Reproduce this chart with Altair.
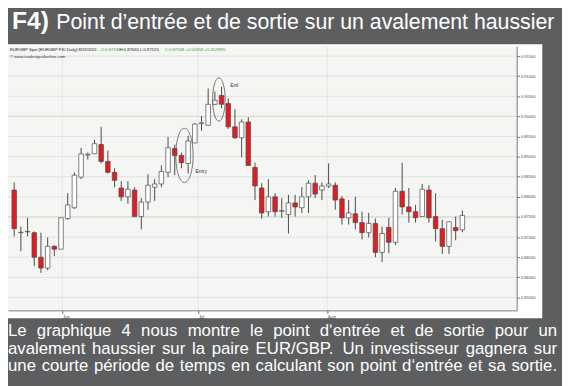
import altair as alt
import pandas as pd

# ---------------- data ----------------
opens = [0.8817, 0.8711, 0.8713, 0.8711, 0.8650, 0.8623, 0.8677, 0.8670, 0.8746, 0.8773,
         0.8849, 0.8904, 0.8907, 0.8930, 0.8888, 0.8861, 0.8822, 0.8800, 0.8817, 0.8751,
         0.8787, 0.8824, 0.8832, 0.8861, 0.8920, 0.8903, 0.8883, 0.8934, 0.8982, 0.8978,
         0.9030, 0.9052, 0.9032, 0.8974, 0.8947, 0.8986, 0.8873, 0.8822, 0.8763, 0.8800,
         0.8764, 0.8756, 0.8785, 0.8773, 0.8800, 0.8834, 0.8817, 0.8827, 0.8829, 0.8795,
         0.8748, 0.8758, 0.8736, 0.8711, 0.8734, 0.8662, 0.8724, 0.8687, 0.8814, 0.8775,
         0.8763, 0.8751, 0.8817, 0.8751, 0.8721, 0.8677, 0.8724, 0.8718]
highs = [0.8836, 0.8726, 0.8748, 0.8714, 0.8711, 0.8699, 0.8680, 0.8748, 0.8809, 0.8861,
         0.8922, 0.8910, 0.8942, 0.8974, 0.8915, 0.8871, 0.8839, 0.8839, 0.8824, 0.8797,
         0.8856, 0.8844, 0.8878, 0.8949, 0.8930, 0.8910, 0.8952, 0.8983, 0.9001, 0.9069,
         0.9062, 0.9074, 0.9045, 0.9018, 0.8993, 0.8998, 0.8885, 0.8834, 0.8844, 0.8809,
         0.8797, 0.8805, 0.8805, 0.8824, 0.8841, 0.8854, 0.8836, 0.8883, 0.8836, 0.8802,
         0.8792, 0.8800, 0.8763, 0.8760, 0.8746, 0.8726, 0.8748, 0.8822, 0.8885, 0.8822,
         0.8780, 0.8832, 0.8829, 0.8809, 0.8743, 0.8738, 0.8751, 0.8766]
lows = [0.8702, 0.8665, 0.8702, 0.8628, 0.8611, 0.8618, 0.8653, 0.8670, 0.8743, 0.8770,
        0.8844, 0.8893, 0.8907, 0.8883, 0.8858, 0.8824, 0.8790, 0.8783, 0.8751, 0.8719,
        0.8768, 0.8790, 0.8824, 0.8849, 0.8854, 0.8871, 0.8858, 0.8934, 0.8964, 0.8978,
        0.9028, 0.9020, 0.8969, 0.8944, 0.8898, 0.8878, 0.8792, 0.8746, 0.8751, 0.8751,
        0.8748, 0.8709, 0.8751, 0.8760, 0.8760, 0.8797, 0.8792, 0.8822, 0.8768, 0.8731,
        0.8731, 0.8719, 0.8694, 0.8699, 0.8650, 0.8638, 0.8660, 0.8680, 0.8756, 0.8736,
        0.8736, 0.8751, 0.8736, 0.8689, 0.8658, 0.8658, 0.8692, 0.8712]
closes = [0.8721, 0.8712, 0.8714, 0.8650, 0.8623, 0.8677, 0.8670, 0.8748, 0.8780, 0.8854,
          0.8907, 0.8906, 0.8932, 0.8888, 0.8861, 0.8841, 0.8800, 0.8819, 0.8751, 0.8787,
          0.8829, 0.8832, 0.8863, 0.8922, 0.8903, 0.8885, 0.8939, 0.8981, 0.8984, 0.9030,
          0.9040, 0.9030, 0.8974, 0.8947, 0.8986, 0.8878, 0.8827, 0.8760, 0.8800, 0.8763,
          0.8766, 0.8785, 0.8775, 0.8800, 0.8834, 0.8807, 0.8827, 0.8832, 0.8792, 0.8748,
          0.8760, 0.8736, 0.8711, 0.8734, 0.8662, 0.8709, 0.8687, 0.8814, 0.8775, 0.8763,
          0.8748, 0.8819, 0.8748, 0.8721, 0.8677, 0.8738, 0.8716, 0.87538]

y_ticks = [0.855, 0.860, 0.865, 0.870, 0.875, 0.880, 0.885, 0.890, 0.895, 0.900, 0.905, 0.910, 0.915]
major_levels = [0.875, 0.900]
month_pos = [7.2, 27.5, 46.8]
month_labels = ["Jun", "Jul", "Aug"]

notes_text = ["Entry", "Exit"]
notes_x = [27.1, 32.3]
notes_y = [0.8863, 0.9079]
ellipse_x = [25.45, 30.6]
ellipse_y = [0.8903, 0.9042]

title_bold = "F4)"
title_rest = "Point d\u2019entr\u00e9e et de sortie sur un avalement haussier"
para_lines = [
    "Le graphique 4 nous montre le point d\u2018entr\u00e9e et de sortie pour un",
    "avalement haussier sur la paire EUR/GBP. Un investisseur gagnera sur",
    "une courte p\u00e9riode de temps en calculant son point d\u2018entr\u00e9e et sa sortie.",
]
header_parts = [
    ("EURGBP Spot [EURGBP FID Daily] 8/23/2011 -", "#222222"),
    ("O:0.87180", "#3aa63a"),
    ("H:0.87660 L:0.87120", "#222222"),
    ("C:0.87538 +0.00358 +0.41299%", "#3aa63a"),
]
header_line2 = "\u00a9 www.tradesignalonline.com"

# ---------------- table ----------------
df = pd.DataFrame({
    "i": list(range(len(opens))),
    "open": opens, "high": highs, "low": lows, "close": closes,
})
df["dir"] = ["up" if c >= o else "down" for o, c in zip(opens, closes)]

W, H = 516, 268
label_expr = "[" + ",".join(f"'{l}'" for l in month_labels) + "][indexof([" + \
    ",".join(str(p) for p in month_pos) + "], datum.value)]"

xscale = alt.Scale(domain=[-0.19, 74.38], nice=False, zero=False)
yscale = alt.Scale(domain=[0.85179, 0.91745], nice=False, zero=False)
xaxis = alt.Axis(orient="bottom", values=month_pos, labelExpr=label_expr, title=None,
                 grid=False, labelFontSize=4.5, labelColor="#444444", labelAlign="left",
                 labelPadding=1, tickSize=3, tickColor="#666666", domainColor="#777777",
                 labelFont="Liberation Sans", zindex=1)
yaxis = alt.Axis(orient="right", values=y_ticks, format=".5f", title=None, grid=False,
                 labelFontSize=4, labelColor="#444444", labelPadding=1, tickSize=3,
                 tickColor="#777777", domainColor="#777777", labelFont="Liberation Sans",
                 zindex=1)

one = pd.DataFrame({"a": [0]})

panel = alt.Chart(one).mark_rect(fill="#ffffff").encode(
    x=alt.value(0), x2=alt.value(542), y=alt.value(-2), y2=alt.value(276))
plotbg = alt.Chart(one).mark_rect(fill="#f5f5f3").encode(
    x=alt.value(0), x2=alt.value(W), y=alt.value(0), y2=alt.value(H))

hgrid = alt.Chart(pd.DataFrame({"v": y_ticks})).mark_rule(color="#e2e2e0", strokeWidth=1).encode(
    y=alt.Y("v:Q", scale=yscale, axis=yaxis))
hmajor = alt.Chart(pd.DataFrame({"v": major_levels})).mark_rule(color="#cfdccf", strokeWidth=1).encode(
    y=alt.Y("v:Q", scale=yscale, axis=yaxis))
vgrid = alt.Chart(pd.DataFrame({"m": month_pos})).mark_rule(color="#e6e6e4", strokeWidth=1).encode(
    x=alt.X("m:Q", scale=xscale, axis=xaxis))

base = alt.Chart(df)
wicks = base.mark_rule(color="#4a4a4a", strokeWidth=1, clip=True).encode(
    x=alt.X("i:Q", scale=xscale, axis=xaxis),
    y=alt.Y("low:Q", scale=yscale, axis=yaxis),
    y2="high:Q")
bodies = base.mark_bar(size=4.6, stroke="#4a4a4a", strokeWidth=0.7, clip=True).encode(
    x=alt.X("i:Q", scale=xscale, axis=xaxis),
    y=alt.Y("open:Q", scale=yscale, axis=yaxis),
    y2="close:Q",
    fill=alt.Fill("dir:N", scale=alt.Scale(domain=["up", "down"], range=["#ffffff", "#e31b23"]),
                  legend=None))

ell_df = pd.DataFrame({"x": ellipse_x, "y": ellipse_y})
ell_entry = alt.Chart(ell_df.iloc[[0]]).mark_point(
    shape="M 0 -1 A 0.32 1 0 1 1 0 1 A 0.32 1 0 1 1 0 -1 Z",
    size=3025, filled=False, stroke="#555555", strokeWidth=0.8, opacity=1).encode(
    x=alt.X("x:Q", scale=xscale, axis=xaxis), y=alt.Y("y:Q", scale=yscale, axis=yaxis))
ell_exit = alt.Chart(ell_df.iloc[[1]]).mark_point(
    shape="M 0 -1 A 0.29 1 0 1 1 0 1 A 0.29 1 0 1 1 0 -1 Z",
    size=1936, filled=False, stroke="#555555", strokeWidth=0.8, opacity=1).encode(
    x=alt.X("x:Q", scale=xscale, axis=xaxis), y=alt.Y("y:Q", scale=yscale, axis=yaxis))

notes = alt.Chart(pd.DataFrame({"t": notes_text, "x": notes_x, "y": notes_y})).mark_text(
    align="left", baseline="middle", fontSize=5, font="Liberation Sans", color="#333333").encode(
    x=alt.X("x:Q", scale=xscale, axis=xaxis), y=alt.Y("y:Q", scale=yscale, axis=yaxis), text="t:N")

# header texts inside plot
header_x = [2, 94, 113, 159]
headers = []
for (txt, col), hx in zip(header_parts, header_x):
    headers.append(alt.Chart(pd.DataFrame({"t": [txt]})).mark_text(
        align="left", baseline="middle", fontSize=4.3, font="Liberation Sans", color=col).encode(
        x=alt.value(hx), y=alt.value(3.5), text="t:N"))
headers.append(alt.Chart(pd.DataFrame({"t": [header_line2]})).mark_text(
    align="left", baseline="middle", fontSize=4.3, font="Liberation Sans", color="#333333").encode(
    x=alt.value(2), y=alt.value(10.5), text="t:N"))

# title
t1 = alt.Chart(pd.DataFrame({"t": [title_bold]})).mark_text(
    align="left", baseline="alphabetic", fontSize=25, fontWeight="bold",
    font="Liberation Sans", color="#ffffff").encode(x=alt.value(4), y=alt.value(-17), text="t:N")
t2 = alt.Chart(pd.DataFrame({"t": [title_rest]})).mark_text(
    align="left", baseline="alphabetic", fontSize=21.6,
    font="Liberation Sans", color="#ffffff").encode(x=alt.value(49), y=alt.value(-17), text="t:N")

# justified paragraph (word layout from Arial / Liberation Sans advance widths)
ADV = {" ": 278, "a": 556, "b": 556, "c": 500, "d": 556, "e": 556, "f": 278, "g": 556,
       "h": 556, "i": 222, "j": 222, "k": 500, "l": 222, "m": 833, "n": 556, "o": 556,
       "p": 556, "q": 556, "r": 333, "s": 500, "t": 278, "u": 556, "v": 500, "w": 722,
       "x": 500, "y": 500, "z": 500, "\u00e9": 556, "L": 556, "E": 667, "U": 722, "R": 722,
       "G": 778, "B": 667, "P": 667, "4": 556, ".": 278, "/": 278, "\u2018": 222, "\u2019": 222}
PARA_FS = 17
PARA_X0, PARA_X1 = 0, 557


def word_w(w):
    return sum(ADV.get(ch, 556) for ch in w) * PARA_FS / 1000.0


para = []
for line, yy in zip(para_lines, [294, 312, 330]):
    words = line.split(" ")
    widths = [word_w(w) for w in words]
    gap = (PARA_X1 - PARA_X0 - sum(widths)) / (len(words) - 1)
    xpos = PARA_X0
    for w, ww in zip(words, widths):
        para.append(alt.Chart(pd.DataFrame({"t": [w]})).mark_text(
            align="left", baseline="alphabetic", fontSize=PARA_FS,
            font="Liberation Sans", color="#ffffff").encode(
            x=alt.value(round(xpos, 2)), y=alt.value(yy), text="t:N"))
        xpos += ww + gap

chart = alt.layer(
    panel, plotbg, hgrid, hmajor, vgrid, wicks, bodies, ell_entry, ell_exit, notes,
    *headers, t1, t2, *para
).properties(
    width=W, height=H,
    autosize=alt.AutoSizeParams(type="none"),
    padding={"left": 0, "top": 36, "right": 46, "bottom": 74},
    background="#5d5e60",
).configure_view(stroke=None, fill=None)

chart.save("out.html", embed_options={"renderer": "svg", "actions": False})
